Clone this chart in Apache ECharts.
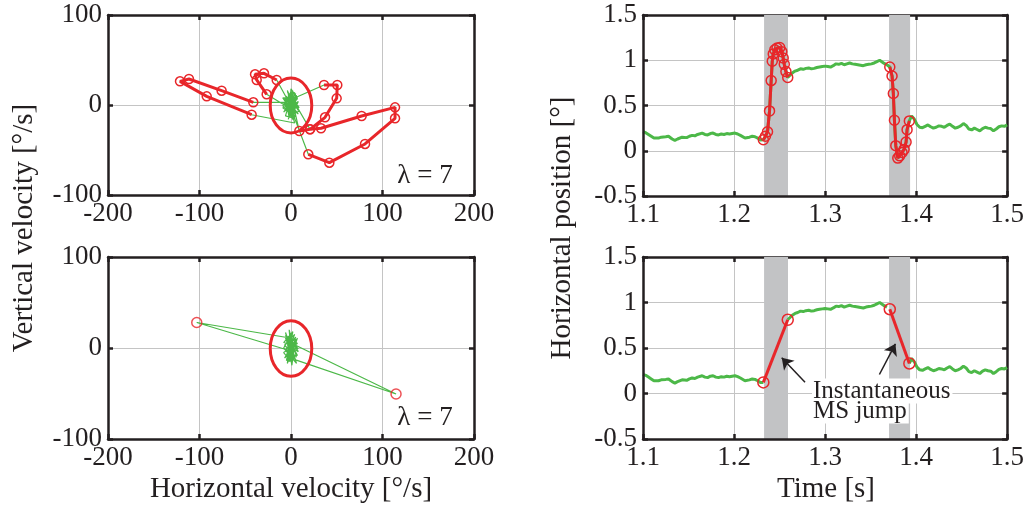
<!DOCTYPE html>
<html><head><meta charset="utf-8">
<script src="https://cdn.jsdelivr.net/npm/echarts@6/dist/echarts.min.js"></script>
<style>html,body{margin:0;padding:0;background:#fff}#c{width:1027px;height:512px}</style>
</head><body><div id="c"></div>
<script>
// ===== DATA =====
// Velocity plane (deg/s): fixation jitter chunks and saccade velocity paths (top-left panel)
const jitA = [[0,2],[3,-4],[-2,6],[5,9],[-4,-2],[2,-10],[-6,5],[4,14],[-1,-7],[6,0],[-3,12],[1,-14],[-5,-5],[7,7],[0,18],[-2,-9],[4,3],[-9,-3],[3,-12],[-1,8],[8,-6],[-4,15],[2,1],[-3,-16],[6,10],[-8,-8],[1,5],[9,-3],[-2,11],[0,-4]];
const jitB = [[3,-2],[-4,4],[1,12],[9,-7],[-2,-11],[5,6],[-8,1],[2,16],[-3,-6],[7,-2],[0,9],[-6,-12],[4,-15],[-1,3],[3,7],[-9,8],[2,-8],[5,13],[-3,0],[1,-3]];
const jitC = [[-4,-2],[4,-6],[-5,10],[1,-11],[8,4],[-3,-4],[2,13],[-9,-1],[5,-13],[0,7],[-4,16],[3,-1],[-1,-8],[7,9],[-2,-14],[-5,3]];
const jitD = [[4,-20],[1,-9],[-3,2],[5,8],[-7,-7],[2,12],[-1,-3],[8,-10],[-4,6],[0,15],[3,-5],[-6,1],[2,-16],[5,3],[2,7]];
const jitE = [[2,6],[-4,-3],[5,-8],[-1,12],[3,2],[-7,8],[1,-12],[6,11],[-3,-10],[8,-1],[-2,5],[0,-6],[3,9],[-1,0]];
const velSac1Out  = [[18.9,-54.8],[41.9,-64.1],[80.9,-43.3],[113.7,-14.8],[113.7,-2.6],[77.2,-12.2],[32.8,-25.9],[20.8,-27.0],[9.1,-28.9]];
const velSac1Back = [[-15.6,27.8],[-29.5,35.2],[-39.3,34.1],[-37.5,27.8],[-26.6,11.9]];
const velSac2Out  = [[-41.2,3.0],[-75.8,15.9],[-111.5,28.9],[-121.3,26.3],[-92.1,9.6],[-43.0,-10.8]];
const velSac2Back = [[36.1,22.2],[50.6,22.2],[49.9,7.4],[37.2,-13.7],[20.8,-27.0]];
// Bottom-left panel: jitter chunks and the two detected samples
const jit2A = [[0,3],[-4,9],[3,-6],[-6,-2],[5,12],[-2,-15],[6,2],[-8,6],[2,18],[-3,-9],[7,-8],[-5,14],[1,-19],[4,7],[-7,-11],[3,0],[-1,11],[8,-4],[-4,4],[2,-12],[-6,17],[5,-14],[-2,1],[6,9],[-1,11]];
const jit2B = [[-1,-3],[3,6],[-5,-8],[4,15],[-7,3],[6,-10],[-2,20],[1,-16],[-8,-5],[7,5],[-3,13],[2,-7],[5,10],[-4,-17],[0,8],[8,-1],[-6,11],[3,-13],[-2,-2],[5,3]];
const jit2C = [[5,-13],[-3,5],[4,-9],[-6,14],[2,-4],[7,11],[-5,-14],[1,16],[-8,0],[6,-17],[-1,7],[4,2],[-4,-6],[2,10],[0,-1]];
const msOutLeft  = [-103, 28];
const msOutRight = [114.8, -50.5];
// threshold ellipse: centre x, centre y, radius x, radius y (deg/s)
const ellipse = [0, -0.5, 22.7, 30.5];
const lambdaText = 'λ = 7';

// Horizontal position (deg) vs time (s)
const fixPre = [[1.100,0.21],[1.103,0.20],[1.106,0.18],[1.109,0.16],[1.112,0.14],[1.114,0.13],[1.117,0.14],[1.120,0.15],[1.122,0.14],[1.125,0.155],[1.128,0.16],[1.130,0.15],[1.132,0.13],[1.135,0.115],[1.138,0.13],[1.140,0.14],[1.143,0.15],[1.145,0.16],[1.148,0.145],[1.151,0.16],[1.154,0.17],[1.157,0.165],[1.160,0.18],[1.162,0.19],[1.165,0.195],[1.168,0.18],[1.171,0.175],[1.174,0.19],[1.177,0.195],[1.180,0.18],[1.183,0.175],[1.186,0.185],[1.189,0.18],[1.192,0.19],[1.195,0.185],[1.198,0.19],[1.201,0.195],[1.204,0.185],[1.207,0.17],[1.209,0.155],[1.212,0.14],[1.214,0.13],[1.217,0.15],[1.220,0.16],[1.223,0.155],[1.226,0.14],[1.229,0.12]];
const sac1 = [[1.2322,0.122],[1.2345,0.16],[1.2368,0.21],[1.2390,0.44],[1.2408,0.775],[1.2420,0.99],[1.2431,1.07],[1.2448,1.115],[1.2472,1.135],[1.2502,1.14],[1.2525,1.095],[1.2540,1.025],[1.2552,0.955],[1.2570,0.875],[1.2590,0.81]];
const fixMid = [[1.261,0.83],[1.264,0.86],[1.267,0.88],[1.270,0.89],[1.273,0.905],[1.276,0.90],[1.279,0.91],[1.282,0.915],[1.285,0.905],[1.288,0.91],[1.291,0.92],[1.294,0.925],[1.297,0.93],[1.300,0.935],[1.303,0.93],[1.306,0.925],[1.309,0.94],[1.312,0.96],[1.315,0.955],[1.318,0.965],[1.321,0.95],[1.324,0.96],[1.327,0.97],[1.330,0.96],[1.333,0.955],[1.336,0.95],[1.339,0.945],[1.342,0.94],[1.345,0.95],[1.348,0.955],[1.351,0.96],[1.354,0.97],[1.357,0.985],[1.360,1.0],[1.362,0.98],[1.365,0.965],[1.368,0.95]];
const sac2 = [[1.3711,0.926],[1.3736,0.826],[1.3750,0.633],[1.3762,0.337],[1.3777,0.056],[1.3799,-0.081],[1.3820,-0.056],[1.3846,-0.019],[1.3868,0.015],[1.3890,0.096],[1.3901,0.233],[1.3926,0.330]];
const fixPost = [[1.3950,0.385],[1.398,0.35],[1.401,0.29],[1.404,0.26],[1.407,0.255],[1.410,0.27],[1.413,0.285],[1.416,0.265],[1.419,0.25],[1.422,0.26],[1.425,0.275],[1.428,0.27],[1.431,0.26],[1.434,0.28],[1.437,0.295],[1.440,0.27],[1.443,0.25],[1.446,0.26],[1.449,0.275],[1.452,0.30],[1.455,0.28],[1.458,0.24],[1.461,0.23],[1.464,0.25],[1.467,0.235],[1.470,0.22],[1.473,0.245],[1.476,0.26],[1.479,0.25],[1.482,0.245],[1.485,0.22],[1.488,0.24],[1.491,0.265],[1.494,0.275],[1.497,0.27],[1.500,0.285]];
const bands = [[1.2330,1.2593],[1.3703,1.3934]];
// annotation arrows [tail, head] in data coords (bottom-right panel)
const arrows = [[[1.278,0.124],[1.2524,0.392]],[[1.3597,0.209],[1.3773,0.546]]];
const annotationLines = ['Instantaneous','MS jump'];

// ===== CHART =====
const RED = '#e8262a', GREEN = '#4cb848', INK = '#231f20', FONT = 'Liberation Serif';
const chart = echarts.init(document.getElementById('c'), null, {renderer:'canvas'});

const grids = [
  {left:108, top:15,  width:366, height:180},
  {left:108, top:257, width:366, height:182},
  {left:643, top:15,  width:365, height:181},
  {left:643, top:257, width:365, height:182}
];
const xr = [[-200,200,100],[-200,200,100],[1.1,1.5,0.1],[1.1,1.5,0.1]];
const yr = [[-100,100,100],[-100,100,100],[-0.5,1.5,0.5],[-0.5,1.5,0.5]];
const line = {show:true, onZero:false, lineStyle:{color:INK, width:2.5}};
const tick = {show:true, inside:true, length:5, lineStyle:{color:INK, width:2.5}};
const lab = {color:INK, fontFamily:FONT, fontSize:27};
const split = {show:true, lineStyle:{color:'#c4c4c4', width:1}};

const xAxis = [], yAxis = [];
for (let i=0;i<4;i++){
  const fx = i>=2 ? (v)=>String(Math.round(v*10)/10) : null;
  xAxis.push({gridIndex:i, type:'value', min:xr[i][0], max:xr[i][1], interval:xr[i][2], position:'bottom', z:5,
    axisLine:line, axisTick:tick, splitLine:{show:false},
    axisLabel:Object.assign({margin:5, formatter:fx||undefined}, lab)});
  yAxis.push({gridIndex:i, type:'value', min:yr[i][0], max:yr[i][1], interval:yr[i][2], position:'left', z:5,
    axisLine:line, axisTick:tick, splitLine:{show:false},
    axisLabel:Object.assign({margin:6}, lab)});
}
for (let i=0;i<4;i++){
  xAxis.push({gridIndex:i, type:'value', min:xr[i][0], max:xr[i][1], interval:xr[i][2], position:'top', z:0,
    axisLine:line, axisTick:tick, axisLabel:{show:false}, splitLine:split});
  yAxis.push({gridIndex:i, type:'value', min:yr[i][0], max:yr[i][1], interval:yr[i][2], position:'right', z:0,
    axisLine:line, axisTick:tick, axisLabel:{show:false}, splitLine:split});
}

const ring = {color:'rgba(0,0,0,0)', borderColor:RED, borderWidth:1.5};
function redPath(idx, data, size){
  return {type:'line', xAxisIndex:idx, yAxisIndex:idx, data, symbol:'circle', symbolSize:size, showAllSymbol:true,
    itemStyle:ring, lineStyle:{color:RED, width:3}, z:3, silent:true};
}
function greenLine(idx, data, w, extra){
  return Object.assign({type:'line', xAxisIndex:idx, yAxisIndex:idx, data, showSymbol:false, symbol:'none',
    lineStyle:{color:GREEN, width:w}, z:2, silent:true}, extra||{});
}
function ellipseSeries(idx){
  return {type:'custom', xAxisIndex:idx, yAxisIndex:idx, data:[ellipse], encode:{x:0,y:1}, z:4, silent:true,
    renderItem:(p, api)=>{
      const c = api.coord([api.value(0), api.value(1)]);
      const s = api.size([api.value(2), api.value(3)]);
      return {type:'ellipse', shape:{cx:c[0], cy:c[1], rx:s[0], ry:s[1]}, style:{fill:null, stroke:RED, lineWidth:3}};
    }};
}
const bandArea = {silent:true, itemStyle:{color:'#c2c3c5'}, data:bands.map(b=>[{xAxis:b[0]},{xAxis:b[1]}])};

const velTraceTop = [].concat(jitA, velSac1Out, jitB, velSac1Back, jitC, velSac2Out, jitD, velSac2Back, jitE);
const velTraceBottom = [].concat(jit2A, [msOutLeft], jit2B, [msOutRight], jit2C);
const posTrace = [].concat(fixPre, sac1, fixMid, sac2, fixPost);
const last = a => a[a.length-1];

const series = [
  greenLine(0, velTraceTop, 1.2),
  redPath(0, velSac1Out, 9), redPath(0, velSac1Back, 9), redPath(0, velSac2Out, 9), redPath(0, velSac2Back, 9),
  ellipseSeries(0),
  greenLine(1, velTraceBottom, 1.2),
  {type:'scatter', xAxisIndex:1, yAxisIndex:1, data:[msOutLeft, msOutRight], symbol:'circle', symbolSize:10, itemStyle:ring, z:3, silent:true},
  ellipseSeries(1),
  greenLine(2, posTrace, 3, {markArea:bandArea}),
  redPath(2, sac1, 10), redPath(2, sac2, 10),
  greenLine(3, fixPre.concat([sac1[0]]), 3, {markArea:bandArea}),
  greenLine(3, [last(sac1)].concat(fixMid), 3),
  greenLine(3, [last(sac2)].concat(fixPost), 3, {markLine:{silent:true, symbol:['none','arrow'], symbolSize:11,
    label:{show:false}, lineStyle:{color:INK, width:1.5, type:'solid'},
    data:arrows.map(a=>[{coord:a[0]},{coord:a[1]}])}}),
  redPath(3, [sac1[0], last(sac1)], 11), redPath(3, [sac2[0], last(sac2)], 11)
];

const tfont = (s)=>({font:`${s}px "${FONT}"`, fill:INK});
const graphic = [
  {type:'text', z:100, x:24, y:228, rotation:Math.PI/2, style:Object.assign({text:'Vertical velocity [°/s]', textAlign:'center', textVerticalAlign:'middle'}, tfont(29))},
  {type:'text', z:100, x:562, y:228, rotation:Math.PI/2, style:Object.assign({text:'Horizontal position [°]', textAlign:'center', textVerticalAlign:'middle'}, tfont(29))},
  {type:'text', z:100, x:291, y:489, style:Object.assign({text:'Horizontal velocity [°/s]', textAlign:'center', textVerticalAlign:'middle'}, tfont(29))},
  {type:'text', z:100, x:826, y:489, style:Object.assign({text:'Time [s]', textAlign:'center', textVerticalAlign:'middle'}, tfont(29))},
  {type:'text', z:100, x:425, y:176, style:Object.assign({text:lambdaText, textAlign:'center', textVerticalAlign:'middle'}, tfont(27))},
  {type:'text', z:100, x:425, y:418, style:Object.assign({text:lambdaText, textAlign:'center', textVerticalAlign:'middle'}, tfont(27))},
  {type:'text', z:100, x:812, y:391, style:Object.assign({text:annotationLines[0], textAlign:'left', textVerticalAlign:'middle', backgroundColor:'#fff', padding:[0,2,0,1]}, tfont(25))},
  {type:'text', z:100, x:812, y:411, style:Object.assign({text:annotationLines[1], textAlign:'left', textVerticalAlign:'middle', backgroundColor:'#fff', padding:[0,2,0,1]}, tfont(25))}
];

chart.setOption({animation:false, backgroundColor:'#fff', grid:grids, xAxis, yAxis, series, graphic});
</script></body></html>
